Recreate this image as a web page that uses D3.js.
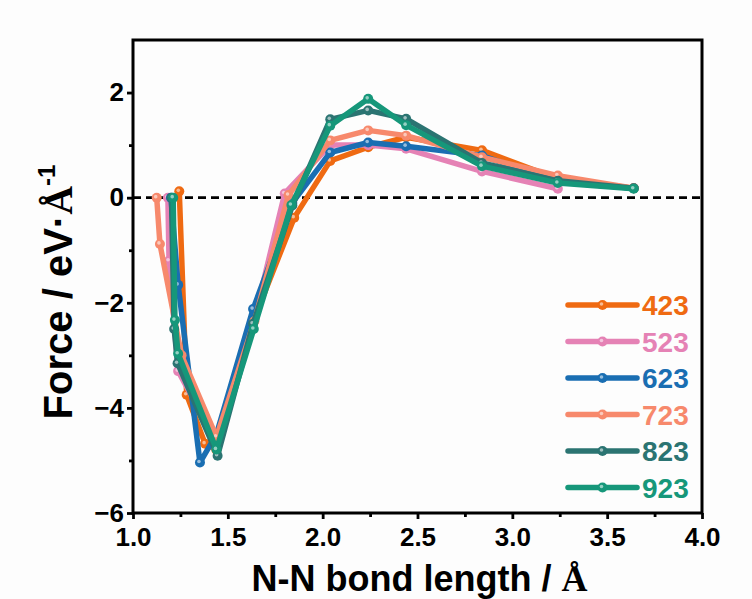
<!DOCTYPE html>
<html>
<head>
<meta charset="utf-8">
<script src="https://cdn.jsdelivr.net/npm/d3@7"></script>
<style>
    body { margin: 0; background: #fdfdfd; }
    svg { display: block; font-family: "Liberation Sans", Arial, sans-serif; }
</style>
</head>
<body>
<svg id="chart" width="752" height="599"></svg>
<script>
/* ==========================================================================
 * Data
 * ========================================================================== */

var temps = ["423", "523", "623", "723", "823", "923"];
var colors = ["#ef6a12", "#e582b5", "#1a6eb2", "#f7896c", "#2b7472", "#16977a"];

var x423 = [1.244, 1.283, 1.38, 1.44, 1.64, 1.85, 2.04, 2.24, 2.44, 2.84, 3.24, 3.64];
var y423 = [0.12, -3.75, -4.68, -4.8, -2.3, -0.38, 0.7, 0.96, 1.15, 0.9, 0.36, 0.18];

var x523 = [1.184, 1.19, 1.238, 1.44, 1.64, 1.8, 2.04, 2.24, 2.44, 2.84, 3.24];
var y523 = [0, -1.2, -3.3, -4.65, -2.3, 0.08, 1.0, 1.0, 0.93, 0.5, 0.17];

var x623 = [1.2, 1.238, 1.353, 1.44, 1.633, 1.84, 2.04, 2.24, 2.44, 2.84, 3.24, 3.64];
var y623 = [0, -1.66, -5.04, -4.5, -2.12, -0.1, 0.86, 1.05, 0.98, 0.8, 0.3, 0.18];

var x723 = [1.125, 1.142, 1.256, 1.44, 1.64, 1.82, 2.04, 2.24, 2.44, 2.84, 3.24, 3.64];
var y723 = [0, -0.88, -3.0, -4.55, -2.35, 0.05, 1.09, 1.28, 1.18, 0.77, 0.42, 0.18];

var x823 = [1.203, 1.217, 1.235, 1.446, 1.633, 1.84, 2.04, 2.24, 2.44, 2.84, 3.24, 3.64];
var y823 = [0, -2.5, -3.15, -4.91, -2.4, -0.15, 1.49, 1.66, 1.5, 0.66, 0.32, 0.18];

var x923 = [1.212, 1.221, 1.238, 1.44, 1.637, 1.835, 2.04, 2.24, 2.44, 2.84, 3.24, 3.64];
var y923 = [0, -2.33, -2.97, -4.79, -2.5, -0.14, 1.37, 1.88, 1.38, 0.6, 0.28, 0.17];

var xTicks = [1.0, 1.5, 2.0, 2.5, 3.0, 3.5, 4.0];
var xMinor = [1.25, 1.75, 2.25, 2.75, 3.25, 3.75];
var yTicks = [-6, -4, -2, 0, 2];
var yMinor = [-5, -3, -1, 1];

var series = [
    {name: temps[0], color: colors[0], xs: x423, ys: y423},
    {name: temps[1], color: colors[1], xs: x523, ys: y523},
    {name: temps[2], color: colors[2], xs: x623, ys: y623},
    {name: temps[3], color: colors[3], xs: x723, ys: y723},
    {name: temps[4], color: colors[4], xs: x823, ys: y823},
    {name: temps[5], color: colors[5], xs: x923, ys: y923}
];


/* ==========================================================================
 * Frame and scales
 * ========================================================================== */

var svg = d3.select("#chart");
var margin = {left: 133, top: 40, right: 50, bottom: 86};
var W = 752 - margin.left - margin.right;
var H = 599 - margin.top - margin.bottom;

var x = d3.scaleLinear().domain([1, 4]).range([0, W]);
var y = d3.scaleLinear().domain([-6, 3]).range([H, 0]);

var g = svg.append("g").attr("transform", "translate(" + margin.left + "," + margin.top + ")");

// zero line
g.append("line")
    .attr("x1", 0).attr("x2", W)
    .attr("y1", y(0)).attr("y2", y(0))
    .attr("stroke", "#000").attr("stroke-width", 2.8)
    .attr("stroke-dasharray", "8,5");


/* ==========================================================================
 * Lines and markers
 * ========================================================================== */

var line = d3.line()
    .x(function(d) { return x(d[0]); })
    .y(function(d) { return y(d[1]); });

series.forEach(function(s) {
    var pts = s.xs.map(function(v, i) { return [v, s.ys[i]]; });
    g.append("path")
        .datum(pts)
        .attr("d", line)
        .attr("fill", "none")
        .attr("stroke", s.color)
        .attr("stroke-width", 5.5)
        .attr("stroke-linejoin", "round")
        .attr("stroke-linecap", "round");
    var m = g.append("g").selectAll("g").data(pts).enter().append("g");
    m.append("circle")
        .attr("cx", function(d) { return x(d[0]); })
        .attr("cy", function(d) { return y(d[1]); })
        .attr("r", 5)
        .attr("fill", s.color);
    m.append("circle")
        .attr("cx", function(d) { return x(d[0]) - 1; })
        .attr("cy", function(d) { return y(d[1]) - 1; })
        .attr("r", 1.8)
        .attr("fill", "#fff").attr("opacity", 0.55);
});


/* ==========================================================================
 * Axes
 * ========================================================================== */

var axisFont = function(sel) {
    sel.selectAll("text")
        .attr("font-size", 26).attr("font-weight", "bold")
        .attr("fill", "#000");
    sel.selectAll("line").attr("stroke", "#000").attr("stroke-width", 2.8);
    sel.select(".domain").remove();
};

g.append("g").attr("transform", "translate(0," + H + ")")
    .call(d3.axisBottom(x).tickValues(xTicks).tickFormat(d3.format(".1f")).tickSize(6).tickPadding(9))
    .call(axisFont);
g.append("g").attr("transform", "translate(0," + H + ")")
    .call(d3.axisBottom(x).tickValues(xMinor).tickFormat("").tickSize(4))
    .call(axisFont);
g.append("g")
    .call(d3.axisLeft(y).tickValues(yTicks).tickFormat(d3.format("d")).tickSize(6).tickPadding(3))
    .call(axisFont);
g.append("g")
    .call(d3.axisLeft(y).tickValues(yMinor).tickFormat("").tickSize(4))
    .call(axisFont);

// box
g.append("rect")
    .attr("width", W).attr("height", H)
    .attr("fill", "none").attr("stroke", "#000").attr("stroke-width", 3);

// axis titles
var xt = svg.append("text")
    .attr("x", margin.left + W / 2 + 2).attr("y", 591)
    .attr("text-anchor", "middle")
    .attr("font-size", 36).attr("font-weight", "bold");
xt.append("tspan").text("N-N bond length / ");
xt.append("tspan").attr("font-family", "Liberation Serif, serif").text("Å");

var yt = svg.append("text")
    .attr("transform", "translate(72," + 292 + ") rotate(-90)")
    .attr("text-anchor", "middle")
    .attr("font-size", 40).attr("font-weight", "bold");
yt.append("tspan").text("Force / eV·");
yt.append("tspan").attr("font-family", "Liberation Serif, serif").text("Å");
yt.append("tspan").attr("font-size", 24).attr("dy", -17).text("-1");


/* ==========================================================================
 * Legend
 * ========================================================================== */

var leg = svg.append("g").attr("transform", "translate(568,305)");
series.forEach(function(s, i) {
    var row = leg.append("g").attr("transform", "translate(0," + (i * 36.5) + ")");
    row.append("line")
        .attr("x1", 0).attr("x2", 69)
        .attr("stroke", s.color).attr("stroke-width", 5.5)
        .attr("stroke-linecap", "round");
    row.append("circle").attr("cx", 34.5).attr("r", 5).attr("fill", s.color);
    row.append("circle").attr("cx", 33.5).attr("cy", -1).attr("r", 1.8)
        .attr("fill", "#fff").attr("opacity", 0.55);
    row.append("text")
        .attr("x", 74).attr("y", 10)
        .attr("font-size", 28).attr("font-weight", "bold")
        .attr("fill", s.color)
        .text(s.name);
});
</script>
</body>
</html>
